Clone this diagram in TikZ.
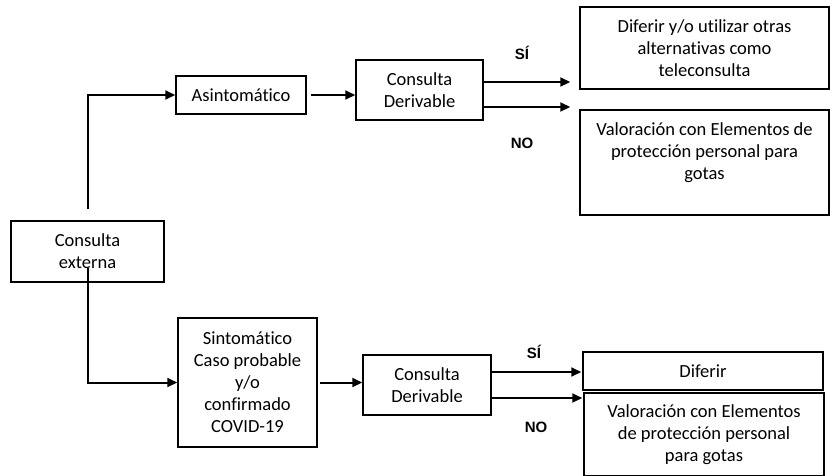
\documentclass[tikz,border=0pt]{standalone}
\usepackage{fontspec}
\setmainfont{Carlito}[Ligatures={NoCommon,NoRare}]
\newfontfamily\labfont{Liberation Sans}
\usetikzlibrary{arrows.meta,calc}
\begin{document}
\begin{tikzpicture}[x=1pt,y=-1pt,
  box/.style={draw=black,line width=1.5pt,align=center,inner sep=0pt,
    font=\fontsize{18.5}{22}\selectfont},
  arr/.style={line width=2pt,-{Triangle[length=10pt,width=9pt]}},
  lab/.style={font=\labfont\bfseries\fontsize{15}{18}\selectfont}]
\useasboundingbox (0,0) rectangle (830,475);
\node[box,minimum width=153,minimum height=61] (ce) at (87.5,251.5) {Consulta\\externa};
\node[box,minimum width=130,minimum height=38] (asin) at (241,95) {Asintomático};
\node[box,minimum width=127,minimum height=60] (cd1) at (419.5,90) {Consulta\\Derivable};
\node[box,minimum width=249,minimum height=82] (r1) at (704.5,48) {Diferir y/o utilizar otras\\alternativas como\\teleconsulta};
\node[box,minimum width=249,minimum height=105] (r2) at (704.5,162.5) {Valoración con Elementos de\\protección personal para\\gotas\\~};
\node[box,minimum width=139,minimum height=129] (sint) at (247.5,382.5) {Sintomático\\Caso probable\\y/o\\confirmado\\COVID-19};
\node[box,minimum width=128,minimum height=60] (cd2) at (427,385) {Consulta\\Derivable};
\node[box,minimum width=240,minimum height=38] (r3) at (703,371) {Diferir};
\node[box,minimum width=240,minimum height=83] (r4) at (704,434.5) {Valoración con Elementos\\de protección personal\\para gotas};
\node[lab] (si1) at (522,53) {SÍ};
\node[lab] (no1) at (522,143) {NO};
\node[lab] (si2) at (534,352) {SÍ};
\node[lab] (no2) at (536,427) {NO};
% connectors
\coordinate (ceTop) at ($(ce.north)+(0,-11)$);
\coordinate (ceIn) at ($(ce.south)+(0,-15)$);
\draw[arr] (ceTop) |- (asin.west);
\draw[arr] (ceIn) |- (sint.west);
\draw[arr,shorten <=4pt] (asin.east) -- (asin.east -| cd1.west);
\draw[arr,shorten <=2pt] (sint.east) -- (sint.east -| cd2.west);
\coordinate (a1) at ($(cd1.east)+(0,-8)$);
\coordinate (a2) at ($(cd1.east)+(0,17)$);
\draw[arr,shorten >=9pt] (a1) -- (a1 -| r1.west);
\draw[arr,shorten >=9pt] (a2) -- (a2 -| r2.west);
\coordinate (b1) at ($(cd2.east)+(0,-13)$);
\coordinate (b2) at ($(cd2.east)+(0,13)$);
\draw[arr,shorten >=1pt] (b1) -- (b1 -| r3.west);
\draw[arr,shorten >=1pt] (b2) -- (b2 -| r4.west);
\end{tikzpicture}
\end{document}
